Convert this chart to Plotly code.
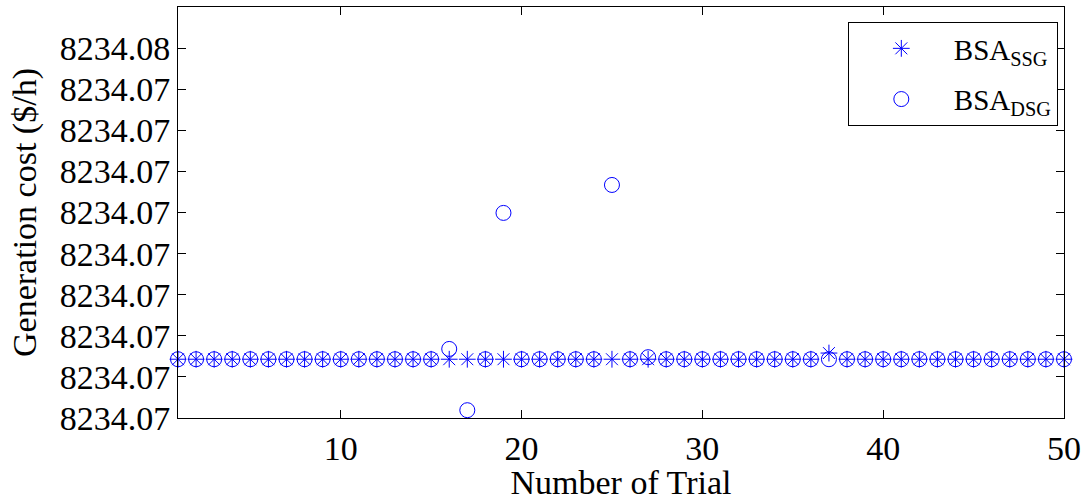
import plotly.graph_objects as go

trials = list(range(1, 51))
base = 8234.06743
ssg = [base] * 50
ssg[37 - 1] = 8234.06758
dsg = [base] * 50
dsg[16 - 1] = 8234.06768
dsg[17 - 1] = 8234.06619
dsg[19 - 1] = 8234.07099
dsg[25 - 1] = 8234.07167
dsg[27 - 1] = 8234.06748

ytick_vals = [8234.066, 8234.067, 8234.068, 8234.069, 8234.070,
              8234.071, 8234.072, 8234.073, 8234.074, 8234.075]
ytick_text = ["8234.07", "8234.07", "8234.07", "8234.07", "8234.07",
              "8234.07", "8234.07", "8234.07", "8234.07", "8234.08"]
xtick_vals = [10, 20, 30, 40, 50]

blue = "rgb(0,0,255)"
font = "Liberation Serif, Times New Roman, serif"

fig = go.Figure()
fig.add_trace(go.Scatter(
    x=trials, y=ssg, mode="markers", name="BSA<sub>SSG</sub>",
    legendgroup="a",
    marker=dict(symbol="asterisk-open", size=14, color=blue,
                line=dict(color=blue, width=1)),
    cliponaxis=False))
fig.add_trace(go.Scatter(
    x=trials, y=dsg, mode="markers", name="BSA<sub>DSG</sub>",
    legendgroup="b",
    marker=dict(symbol="circle-open", size=15, color=blue,
                line=dict(color=blue, width=1)),
    cliponaxis=False))

axis_common = dict(showgrid=False, zeroline=False, showline=True,
                   linecolor="black", linewidth=1, mirror="ticks",
                   ticks="inside", ticklen=8, tickcolor="black",
                   automargin=False,
                   tickfont=dict(family=font, size=34, color="black"))

fig.update_layout(
    width=1091, height=501,
    margin=dict(l=178, r=27, t=7, b=83),
    paper_bgcolor="white", plot_bgcolor="white",
    font=dict(family=font, size=29, color="black"),
    xaxis=dict(range=[1, 50], tickvals=xtick_vals, ticklabelstandoff=0,
               title=dict(text="Number of Trial", standoff=4,
                          font=dict(family=font, size=34, color="black")),
               **axis_common),
    yaxis=dict(range=[8234.066, 8234.076], tickvals=ytick_vals,
               ticktext=ytick_text,
               title=dict(text="Generation cost ($/h)", standoff=12,
                          font=dict(family=font, size=34, color="black")),
               **axis_common),
    legend=dict(x=0.756, y=0.9635, xanchor="left", yanchor="top",
                bordercolor="black", borderwidth=1, bgcolor="white",
                font=dict(family=font, size=29, color="black"),
                itemwidth=95, tracegroupgap=10),
    showlegend=True,
)

fig.write_html("out.html", config={"displayModeBar": False},
               post_script="document.body.style.margin='0';document.body.style.overflow='hidden';")
